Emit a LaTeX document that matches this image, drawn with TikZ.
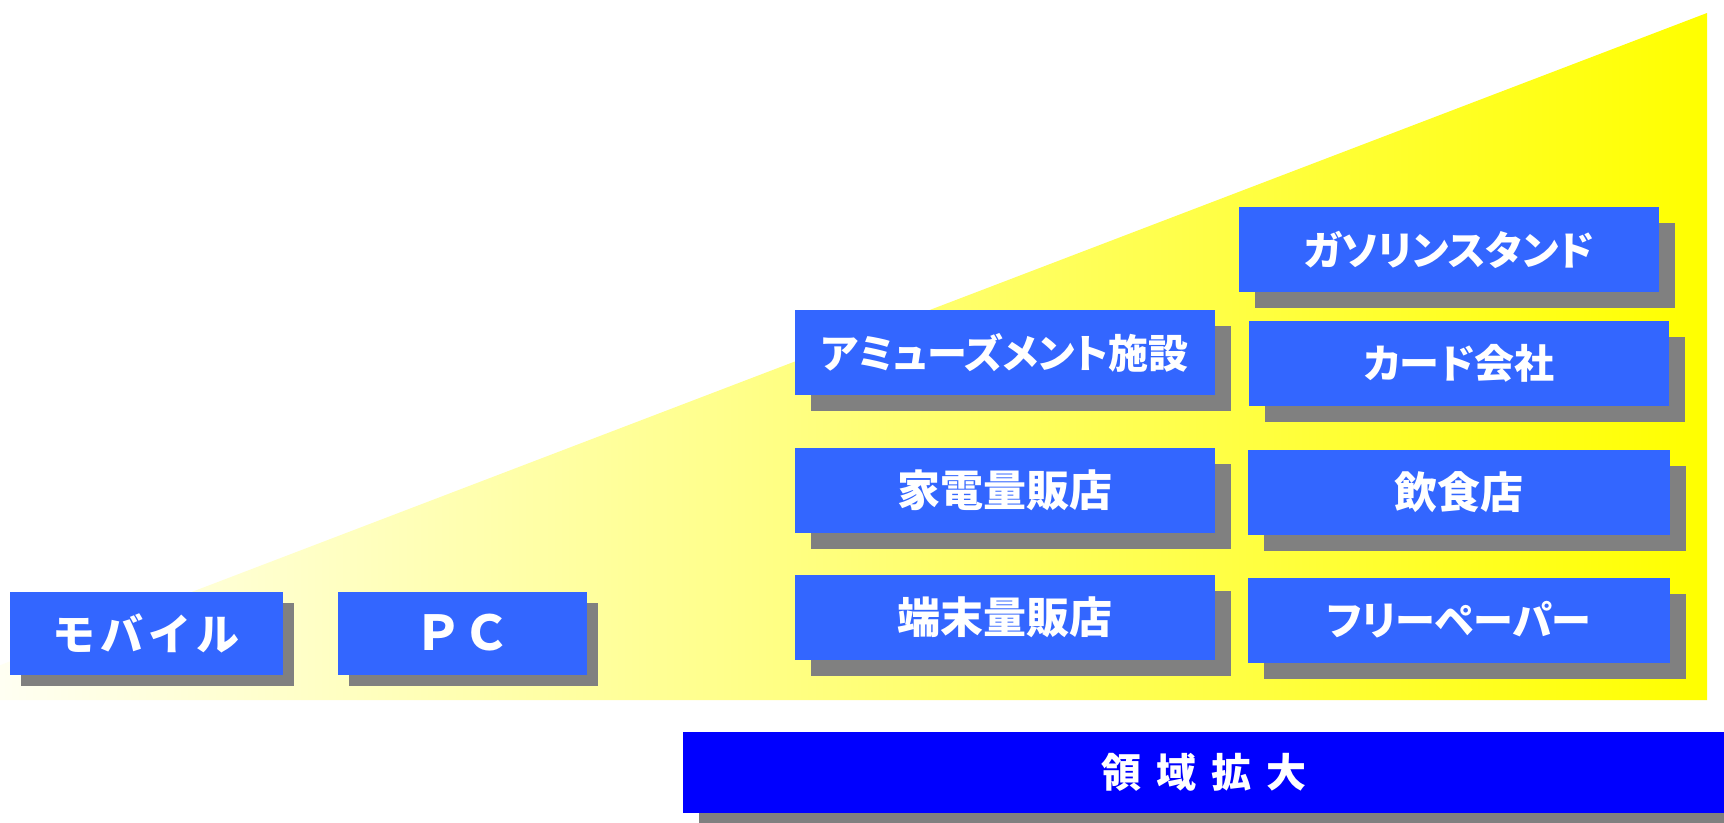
\documentclass[tikz,border=0pt]{standalone}
\usepackage{fontspec}
\newfontfamily\jpp{Noto Sans CJK JP}[RawFeature=+palt]
\newfontfamily\jpf{Noto Sans CJK JP}
\usetikzlibrary{shadows}
\definecolor{boxblue}{HTML}{3366FF}
\definecolor{deepblue}{HTML}{0000FF}
\definecolor{shadowgray}{HTML}{808080}
\definecolor{ylw}{HTML}{FFFF00}
\tikzset{
  basebox/.style={fill=boxblue, text=white, inner sep=0pt, outer sep=0pt,
    font=\jpp\bfseries\fontsize{40}{48}\selectfont},
  kanji/.style={font=\jpf\bfseries\fontsize{43}{50}\selectfont},
  smallbox/.style={basebox, minimum height=83pt,
    drop shadow={shadow xshift=11pt, shadow yshift=-11pt, fill=shadowgray, opacity=1}},
  bigbox/.style={basebox, minimum width=420pt, minimum height=85pt,
    drop shadow={shadow xshift=16pt, shadow yshift=-16pt, fill=shadowgray, opacity=1}},
}
\begin{document}
\begin{tikzpicture}[x=1pt,y=-1pt]
\useasboundingbox (0,0) rectangle (1724,822);
\fill[white] (0,0) rectangle (1724,822);
% yellow wedge
\shade[left color=white, right color=ylw] (-91,700) -- (1707,13) -- (1707,700) -- cycle;
% boxes
\node[smallbox, minimum width=273pt, kanji] (mob) at (146,633) {\addfontfeatures{LetterSpace=12}モバイル};
\node[smallbox, minimum width=249pt, font=\jpf\bfseries\fontsize{48}{56}\selectfont] (pc) at (462,633) {ＰＣ};
\node[bigbox] (amu) at (1005,352.5) {アミューズメント施設};
\node[bigbox, kanji] (kaden) at (1005,490) {家電量販店};
\node[bigbox, kanji] (tanm) at (1005,617.5) {端末量販店};
\node[bigbox] (gas) at (1449,249.6) {ガソリンスタンド};
\node[bigbox] (card) at (1459,363) {カード会社};
\node[bigbox, kanji, minimum width=422pt] (insh) at (1459,492.6) {飲食店};
\node[bigbox, minimum width=422pt] (free) at (1459,620) {フリーペーパー};
\node[basebox, fill=deepblue, minimum width=1041pt, minimum height=81pt,
  font=\jpf\bfseries\fontsize{40}{48}\selectfont,
  drop shadow={shadow xshift=16pt, shadow yshift=-16pt, fill=shadowgray, opacity=1}]
  (ryo) at (1203.5,772.5) {\spaceskip=15pt\relax 領 域 拡 大};
\end{tikzpicture}
\end{document}
